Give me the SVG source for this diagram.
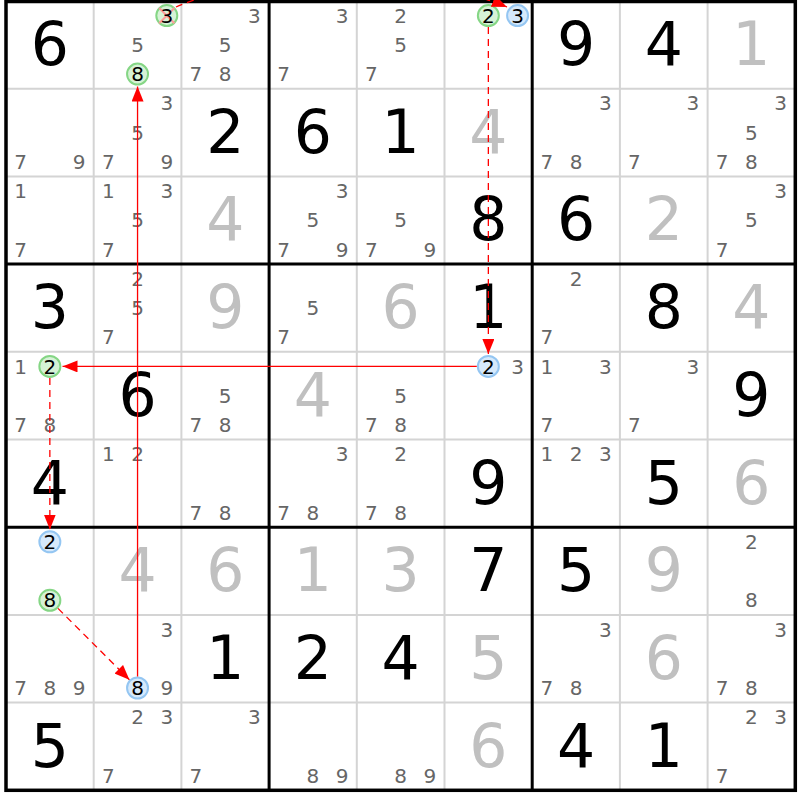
<svg xmlns="http://www.w3.org/2000/svg" width="800" height="800" viewBox="0 0 800 800">
<style>
text{font-family:"DejaVu Sans","Liberation Sans",sans-serif;text-anchor:middle}
.g{font-size:60px;fill:#000}
.s{font-size:60px;fill:#c0c0c0}
.c{font-size:20px;fill:#666}
.k{font-size:20px;fill:#000}
.thin{stroke:#d4d4d4;stroke-width:2}
.thick{stroke:#000;stroke-width:3}
.cg{fill:#d6f2d6;stroke:#85d685;stroke-width:2}
.cb{fill:#d6e9fb;stroke:#94c6f2;stroke-width:2}
.ln{stroke:#ff0000;stroke-width:1.3;fill:none}
.dash{stroke-dasharray:7 5}
</style>
<defs>
<marker id="ah" markerUnits="userSpaceOnUse" markerWidth="15" markerHeight="12" refX="15" refY="6" orient="auto">
<path d="M0,0 L15,6 L0,12 z" fill="#ff0000"/>
</marker>
</defs>
<rect width="800" height="800" fill="#fff"/>
<g id="grid">
<path class="thin" d="M93.7 1V790.3M181.4 1V790.3M356.8 1V790.3M444.5 1V790.3M619.9 1V790.3M707.6 1V790.3M6 88.7H795.3M6 176.4H795.3M6 351.8H795.3M6 439.5H795.3M6 614.9H795.3M6 702.6H795.3"/>
<path class="thick" d="M269.1 1V790.3M532.2 1V790.3M6 264.1H795.3M6 527.2H795.3"/>
<rect x="6" y="1.5" width="789.3" height="788.8" fill="none" stroke="#000" stroke-width="3.5"/>
</g>

<g id="r1c1" transform="translate(6,1)"><text class="g" x="43.85" y="64">6</text></g>
<g id="r1c2" transform="translate(93.7,1)"><circle class="cg" cx="73.1" cy="14.6" r="10.5"/><path d="M65.5 7L80.7 22.2M80.7 7L65.5 22.2" stroke="#ff9a9a" stroke-width="2"/><text class="k" x="73.1" y="21.8">3</text><text class="c" x="43.85" y="51.05">5</text><circle class="cg" cx="43.85" cy="73.1" r="10.5"/><text class="k" x="43.85" y="80.3">8</text></g>
<g id="r1c3" transform="translate(181.4,1)"><text class="c" x="73.1" y="21.8">3</text><text class="c" x="43.85" y="51.05">5</text><text class="c" x="14.6" y="80.3">7</text><text class="c" x="43.85" y="80.3">8</text></g>
<g id="r1c4" transform="translate(269.1,1)"><text class="c" x="73.1" y="21.8">3</text><text class="c" x="14.6" y="80.3">7</text></g>
<g id="r1c5" transform="translate(356.8,1)"><text class="c" x="43.85" y="21.8">2</text><text class="c" x="43.85" y="51.05">5</text><text class="c" x="14.6" y="80.3">7</text></g>
<g id="r1c6" transform="translate(444.5,1)"><circle class="cg" cx="43.85" cy="14.6" r="10.5"/><text class="k" x="43.85" y="21.8">2</text><circle class="cb" cx="73.1" cy="14.6" r="10.5"/><text class="k" x="73.1" y="21.8">3</text></g>
<g id="r1c7" transform="translate(532.2,1)"><text class="g" x="43.85" y="64">9</text></g>
<g id="r1c8" transform="translate(619.9,1)"><text class="g" x="43.85" y="64">4</text></g>
<g id="r1c9" transform="translate(707.6,1)"><text class="s" x="43.85" y="64">1</text></g>

<g id="r2c1" transform="translate(6,88.7)"><text class="c" x="14.6" y="80.3">7</text><text class="c" x="73.1" y="80.3">9</text></g>
<g id="r2c2" transform="translate(93.7,88.7)"><text class="c" x="73.1" y="21.8">3</text><text class="c" x="43.85" y="51.05">5</text><text class="c" x="14.6" y="80.3">7</text><text class="c" x="73.1" y="80.3">9</text></g>
<g id="r2c3" transform="translate(181.4,88.7)"><text class="g" x="43.85" y="64">2</text></g>
<g id="r2c4" transform="translate(269.1,88.7)"><text class="g" x="43.85" y="64">6</text></g>
<g id="r2c5" transform="translate(356.8,88.7)"><text class="g" x="43.85" y="64">1</text></g>
<g id="r2c6" transform="translate(444.5,88.7)"><text class="s" x="43.85" y="64">4</text></g>
<g id="r2c7" transform="translate(532.2,88.7)"><text class="c" x="73.1" y="21.8">3</text><text class="c" x="14.6" y="80.3">7</text><text class="c" x="43.85" y="80.3">8</text></g>
<g id="r2c8" transform="translate(619.9,88.7)"><text class="c" x="73.1" y="21.8">3</text><text class="c" x="14.6" y="80.3">7</text></g>
<g id="r2c9" transform="translate(707.6,88.7)"><text class="c" x="73.1" y="21.8">3</text><text class="c" x="43.85" y="51.05">5</text><text class="c" x="14.6" y="80.3">7</text><text class="c" x="43.85" y="80.3">8</text></g>

<g id="r3c1" transform="translate(6,176.4)"><text class="c" x="14.6" y="21.8">1</text><text class="c" x="14.6" y="80.3">7</text></g>
<g id="r3c2" transform="translate(93.7,176.4)"><text class="c" x="14.6" y="21.8">1</text><text class="c" x="73.1" y="21.8">3</text><text class="c" x="43.85" y="51.05">5</text><text class="c" x="14.6" y="80.3">7</text></g>
<g id="r3c3" transform="translate(181.4,176.4)"><text class="s" x="43.85" y="64">4</text></g>
<g id="r3c4" transform="translate(269.1,176.4)"><text class="c" x="73.1" y="21.8">3</text><text class="c" x="43.85" y="51.05">5</text><text class="c" x="14.6" y="80.3">7</text><text class="c" x="73.1" y="80.3">9</text></g>
<g id="r3c5" transform="translate(356.8,176.4)"><text class="c" x="43.85" y="51.05">5</text><text class="c" x="14.6" y="80.3">7</text><text class="c" x="73.1" y="80.3">9</text></g>
<g id="r3c6" transform="translate(444.5,176.4)"><text class="g" x="43.85" y="64">8</text></g>
<g id="r3c7" transform="translate(532.2,176.4)"><text class="g" x="43.85" y="64">6</text></g>
<g id="r3c8" transform="translate(619.9,176.4)"><text class="s" x="43.85" y="64">2</text></g>
<g id="r3c9" transform="translate(707.6,176.4)"><text class="c" x="73.1" y="21.8">3</text><text class="c" x="43.85" y="51.05">5</text><text class="c" x="14.6" y="80.3">7</text></g>

<g id="r4c1" transform="translate(6,264.1)"><text class="g" x="43.85" y="64">3</text></g>
<g id="r4c2" transform="translate(93.7,264.1)"><text class="c" x="43.85" y="21.8">2</text><text class="c" x="43.85" y="51.05">5</text><text class="c" x="14.6" y="80.3">7</text></g>
<g id="r4c3" transform="translate(181.4,264.1)"><text class="s" x="43.85" y="64">9</text></g>
<g id="r4c4" transform="translate(269.1,264.1)"><text class="c" x="43.85" y="51.05">5</text><text class="c" x="14.6" y="80.3">7</text></g>
<g id="r4c5" transform="translate(356.8,264.1)"><text class="s" x="43.85" y="64">6</text></g>
<g id="r4c6" transform="translate(444.5,264.1)"><text class="g" x="43.85" y="64">1</text></g>
<g id="r4c7" transform="translate(532.2,264.1)"><text class="c" x="43.85" y="21.8">2</text><text class="c" x="14.6" y="80.3">7</text></g>
<g id="r4c8" transform="translate(619.9,264.1)"><text class="g" x="43.85" y="64">8</text></g>
<g id="r4c9" transform="translate(707.6,264.1)"><text class="s" x="43.85" y="64">4</text></g>

<g id="r5c1" transform="translate(6,351.8)"><text class="c" x="14.6" y="21.8">1</text><circle class="cg" cx="43.85" cy="14.6" r="10.5"/><text class="k" x="43.85" y="21.8">2</text><text class="c" x="14.6" y="80.3">7</text><text class="c" x="43.85" y="80.3">8</text></g>
<g id="r5c2" transform="translate(93.7,351.8)"><text class="g" x="43.85" y="64">6</text></g>
<g id="r5c3" transform="translate(181.4,351.8)"><text class="c" x="43.85" y="51.05">5</text><text class="c" x="14.6" y="80.3">7</text><text class="c" x="43.85" y="80.3">8</text></g>
<g id="r5c4" transform="translate(269.1,351.8)"><text class="s" x="43.85" y="64">4</text></g>
<g id="r5c5" transform="translate(356.8,351.8)"><text class="c" x="43.85" y="51.05">5</text><text class="c" x="14.6" y="80.3">7</text><text class="c" x="43.85" y="80.3">8</text></g>
<g id="r5c6" transform="translate(444.5,351.8)"><circle class="cb" cx="43.85" cy="14.6" r="10.5"/><text class="k" x="43.85" y="21.8">2</text><text class="c" x="73.1" y="21.8">3</text></g>
<g id="r5c7" transform="translate(532.2,351.8)"><text class="c" x="14.6" y="21.8">1</text><text class="c" x="73.1" y="21.8">3</text><text class="c" x="14.6" y="80.3">7</text></g>
<g id="r5c8" transform="translate(619.9,351.8)"><text class="c" x="73.1" y="21.8">3</text><text class="c" x="14.6" y="80.3">7</text></g>
<g id="r5c9" transform="translate(707.6,351.8)"><text class="g" x="43.85" y="64">9</text></g>

<g id="r6c1" transform="translate(6,439.5)"><text class="g" x="43.85" y="64">4</text></g>
<g id="r6c2" transform="translate(93.7,439.5)"><text class="c" x="14.6" y="21.8">1</text><text class="c" x="43.85" y="21.8">2</text></g>
<g id="r6c3" transform="translate(181.4,439.5)"><text class="c" x="14.6" y="80.3">7</text><text class="c" x="43.85" y="80.3">8</text></g>
<g id="r6c4" transform="translate(269.1,439.5)"><text class="c" x="73.1" y="21.8">3</text><text class="c" x="14.6" y="80.3">7</text><text class="c" x="43.85" y="80.3">8</text></g>
<g id="r6c5" transform="translate(356.8,439.5)"><text class="c" x="43.85" y="21.8">2</text><text class="c" x="14.6" y="80.3">7</text><text class="c" x="43.85" y="80.3">8</text></g>
<g id="r6c6" transform="translate(444.5,439.5)"><text class="g" x="43.85" y="64">9</text></g>
<g id="r6c7" transform="translate(532.2,439.5)"><text class="c" x="14.6" y="21.8">1</text><text class="c" x="43.85" y="21.8">2</text><text class="c" x="73.1" y="21.8">3</text></g>
<g id="r6c8" transform="translate(619.9,439.5)"><text class="g" x="43.85" y="64">5</text></g>
<g id="r6c9" transform="translate(707.6,439.5)"><text class="s" x="43.85" y="64">6</text></g>

<g id="r7c1" transform="translate(6,527.2)"><circle class="cb" cx="43.85" cy="14.6" r="10.5"/><text class="k" x="43.85" y="21.8">2</text><circle class="cg" cx="43.85" cy="73.1" r="10.5"/><text class="k" x="43.85" y="80.3">8</text></g>
<g id="r7c2" transform="translate(93.7,527.2)"><text class="s" x="43.85" y="64">4</text></g>
<g id="r7c3" transform="translate(181.4,527.2)"><text class="s" x="43.85" y="64">6</text></g>
<g id="r7c4" transform="translate(269.1,527.2)"><text class="s" x="43.85" y="64">1</text></g>
<g id="r7c5" transform="translate(356.8,527.2)"><text class="s" x="43.85" y="64">3</text></g>
<g id="r7c6" transform="translate(444.5,527.2)"><text class="g" x="43.85" y="64">7</text></g>
<g id="r7c7" transform="translate(532.2,527.2)"><text class="g" x="43.85" y="64">5</text></g>
<g id="r7c8" transform="translate(619.9,527.2)"><text class="s" x="43.85" y="64">9</text></g>
<g id="r7c9" transform="translate(707.6,527.2)"><text class="c" x="43.85" y="21.8">2</text><text class="c" x="43.85" y="80.3">8</text></g>

<g id="r8c1" transform="translate(6,614.9)"><text class="c" x="14.6" y="80.3">7</text><text class="c" x="43.85" y="80.3">8</text><text class="c" x="73.1" y="80.3">9</text></g>
<g id="r8c2" transform="translate(93.7,614.9)"><text class="c" x="73.1" y="21.8">3</text><circle class="cb" cx="43.85" cy="73.1" r="10.5"/><text class="k" x="43.85" y="80.3">8</text><text class="c" x="73.1" y="80.3">9</text></g>
<g id="r8c3" transform="translate(181.4,614.9)"><text class="g" x="43.85" y="64">1</text></g>
<g id="r8c4" transform="translate(269.1,614.9)"><text class="g" x="43.85" y="64">2</text></g>
<g id="r8c5" transform="translate(356.8,614.9)"><text class="g" x="43.85" y="64">4</text></g>
<g id="r8c6" transform="translate(444.5,614.9)"><text class="s" x="43.85" y="64">5</text></g>
<g id="r8c7" transform="translate(532.2,614.9)"><text class="c" x="73.1" y="21.8">3</text><text class="c" x="14.6" y="80.3">7</text><text class="c" x="43.85" y="80.3">8</text></g>
<g id="r8c8" transform="translate(619.9,614.9)"><text class="s" x="43.85" y="64">6</text></g>
<g id="r8c9" transform="translate(707.6,614.9)"><text class="c" x="73.1" y="21.8">3</text><text class="c" x="14.6" y="80.3">7</text><text class="c" x="43.85" y="80.3">8</text></g>

<g id="r9c1" transform="translate(6,702.6)"><text class="g" x="43.85" y="64">5</text></g>
<g id="r9c2" transform="translate(93.7,702.6)"><text class="c" x="43.85" y="21.8">2</text><text class="c" x="73.1" y="21.8">3</text><text class="c" x="14.6" y="80.3">7</text></g>
<g id="r9c3" transform="translate(181.4,702.6)"><text class="c" x="73.1" y="21.8">3</text><text class="c" x="14.6" y="80.3">7</text></g>
<g id="r9c4" transform="translate(269.1,702.6)"><text class="c" x="43.85" y="80.3">8</text><text class="c" x="73.1" y="80.3">9</text></g>
<g id="r9c5" transform="translate(356.8,702.6)"><text class="c" x="43.85" y="80.3">8</text><text class="c" x="73.1" y="80.3">9</text></g>
<g id="r9c6" transform="translate(444.5,702.6)"><text class="s" x="43.85" y="64">6</text></g>
<g id="r9c7" transform="translate(532.2,702.6)"><text class="g" x="43.85" y="64">4</text></g>
<g id="r9c8" transform="translate(619.9,702.6)"><text class="g" x="43.85" y="64">1</text></g>
<g id="r9c9" transform="translate(707.6,702.6)"><text class="c" x="43.85" y="21.8">2</text><text class="c" x="73.1" y="21.8">3</text><text class="c" x="14.6" y="80.3">7</text></g>

<g id="connectors">
<path class="ln" d="M137.55 676.5V86.5" marker-end="url(#ah)"/>
<path class="ln dash" d="M488.35 27V354" marker-end="url(#ah)"/>
<path class="ln" d="M476.8 366.4H62.5" marker-end="url(#ah)"/>
<path class="ln dash" d="M49.85 378V529.5" marker-end="url(#ah)"/>
<path class="ln dash" d="M58 608.4L129.4 679.8" marker-end="url(#ah)"/>
<path class="ln dash" d="M176 7C255 -28 425 -28 507 7" marker-end="url(#ah)"/>
</g>
</svg>
